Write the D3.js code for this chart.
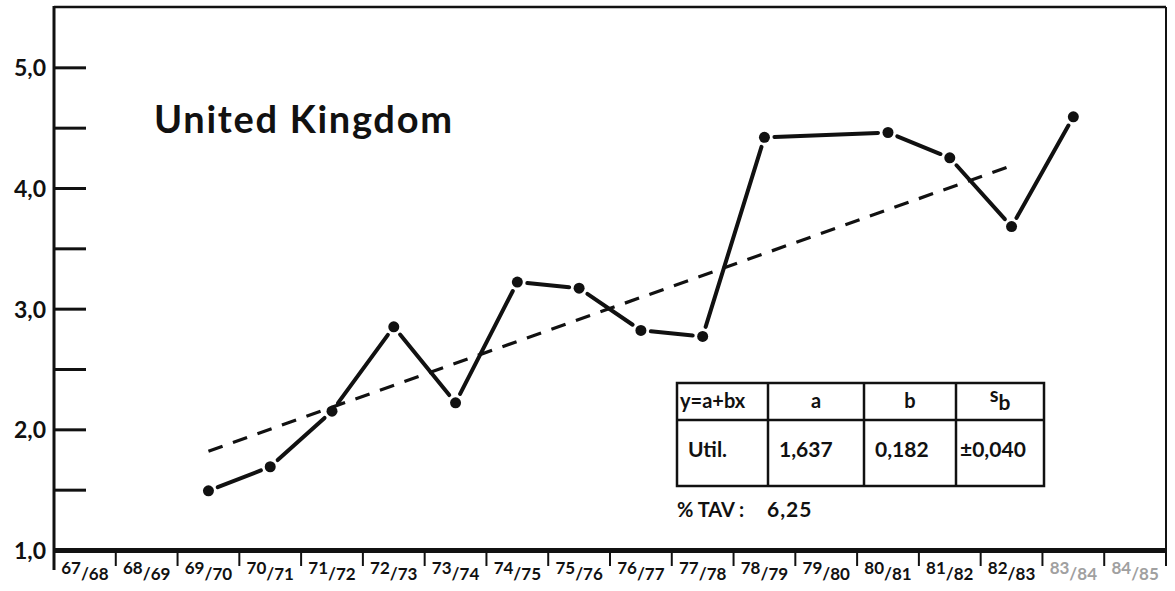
<!DOCTYPE html>
<html>
<head>
<meta charset="utf-8">
<script src="https://cdn.jsdelivr.net/npm/d3@7"></script>
<style>
  html, body { margin: 0; padding: 0; background: #fff; }
  svg { display: block; }
  text { font-family: Lato, 'DejaVu Sans', sans-serif; fill: #111; }
</style>
</head>
<body>
<div id="chart"></div>
<script>
// values
const categories = ['67/68', '68/69', '69/70', '70/71', '71/72', '72/73', '73/74', '74/75', '75/76',
  '76/77', '77/78', '78/79', '79/80', '80/81', '81/82', '82/83', '83/84', '84/85']
const values = [null, null, 1.49, 1.69, 2.15, 2.85, 2.22, 3.22, 3.17,
  2.82, 2.77, 4.42, null, 4.46, 4.25, 3.68, 4.59, null]
const yTicks = [1.5, 2, 2.5, 3, 3.5, 4, 4.5, 5]
const yLabels = [1, 2, 3, 4, 5]
const fadedLabels = ['83/84', '84/85']
const title = 'United Kingdom'

// regression y = a + b x, x = 1 at 69/70
const trendA = 1.637
const trendB = 0.182
const trendFrom = '69/70'
const trendTo = '82/83'

const tableHead = ['y=a+bx', 'a', 'b', 's']
const tableRow = ['Util.', '1,637', '0,182', '±0,040']
const tavLabel = '% TAV :'
const tavValue = '6,25'

const width = 1175
const height = 591
const plotLeft = 54
const plotRight = 1166
const plotTop = 7
const plotBottom = 550

const svg = d3.select('#chart').append('svg')
  .attr('width', width)
  .attr('height', height)

const x = d3.scaleBand().domain(categories).range([plotLeft, plotRight])
const y = d3.scaleLinear().domain([1, 5.5]).range([plotBottom, plotTop])
const cx = (c) => x(c) + x.bandwidth() / 2
const fmt = (v) => d3.format('.1f')(v).replace('.', ',')

// frame
svg.append('line')
  .attr('x1', plotLeft).attr('x2', plotRight).attr('y1', plotTop).attr('y2', plotTop)
  .attr('stroke', '#111').attr('stroke-width', 2.5)
svg.append('line')
  .attr('x1', plotRight).attr('x2', plotRight).attr('y1', plotTop).attr('y2', 566)
  .attr('stroke', '#111').attr('stroke-width', 2)

// y axis
const yAxis = svg.append('g')
  .attr('transform', `translate(${plotLeft},0)`)
  .call(d3.axisRight(y).tickValues(yTicks).tickSize(32).tickFormat(''))
yAxis.select('.domain').remove()
yAxis.selectAll('.tick line').attr('stroke', '#111').attr('stroke-width', 3)
svg.append('line')
  .attr('x1', plotLeft).attr('x2', plotLeft).attr('y1', plotTop - 1).attr('y2', 570)
  .attr('stroke', '#111').attr('stroke-width', 3)

svg.append('g').selectAll('text')
  .data(yLabels)
  .join('text')
  .attr('x', 46)
  .attr('y', (d) => y(d) + 9)
  .attr('text-anchor', 'end')
  .attr('font-size', 23)
  .attr('font-weight', 700)
  .text(fmt)

// x axis
svg.append('line')
  .attr('x1', plotLeft).attr('x2', plotRight).attr('y1', plotBottom + 0.5).attr('y2', plotBottom + 0.5)
  .attr('stroke', '#111').attr('stroke-width', 5)

svg.append('g').selectAll('line')
  .data(categories.slice(1))
  .join('line')
  .attr('x1', (d) => x(d)).attr('x2', (d) => x(d))
  .attr('y1', plotBottom).attr('y2', 566)
  .attr('stroke', '#111').attr('stroke-width', 2)

const xl = svg.append('g').selectAll('text')
  .data(categories)
  .join('text')
  .attr('x', (d) => cx(d))
  .attr('y', 574)
  .attr('text-anchor', 'middle')
  .attr('font-size', 17)
  .attr('font-weight', 700)
  .style('fill', (d) => fadedLabels.includes(d) ? '#a0a0a0' : '#111')
xl.append('tspan').text((d) => d.split('/')[0])
xl.append('tspan').attr('dy', 6).text((d) => '/' + d.split('/')[1])

// title
svg.append('text')
  .attr('x', 154)
  .attr('y', 133)
  .attr('font-size', 38)
  .attr('font-weight', 700)
  .attr('textLength', 298)
  .attr('lengthAdjust', 'spacing')
  .text(title)

// trend line
const i0 = categories.indexOf(trendFrom)
const i1 = categories.indexOf(trendTo)
svg.append('line')
  .attr('x1', cx(trendFrom))
  .attr('y1', y(trendA + trendB * 1))
  .attr('x2', cx(trendTo))
  .attr('y2', y(trendA + trendB * (i1 - i0 + 1)))
  .attr('stroke', '#111')
  .attr('stroke-width', 3.2)
  .attr('stroke-dasharray', '15,11')

// data: hand-drawn segments stop short of each dot
const pts = categories
  .map((c, i) => ({ c, v: values[i] }))
  .filter((d) => d.v !== null)
  .map((d) => ({ px: cx(d.c), py: y(d.v) }))
const gap = 10
const segs = d3.pairs(pts).map(([a, b]) => {
  const dx = b.px - a.px
  const dy = b.py - a.py
  const len = Math.hypot(dx, dy)
  return {
    x1: a.px + dx / len * gap, y1: a.py + dy / len * gap,
    x2: b.px - dx / len * gap, y2: b.py - dy / len * gap
  }
})
svg.append('g').selectAll('line')
  .data(segs)
  .join('line')
  .attr('x1', (d) => d.x1).attr('y1', (d) => d.y1)
  .attr('x2', (d) => d.x2).attr('y2', (d) => d.y2)
  .attr('stroke', '#111')
  .attr('stroke-width', 4)
  .attr('stroke-linecap', 'round')
svg.append('g').selectAll('circle')
  .data(pts)
  .join('circle')
  .attr('cx', (d) => d.px)
  .attr('cy', (d) => d.py)
  .attr('r', 5.5)
  .attr('fill', '#111')

// coefficient table
const colX = [677, 768, 864, 956, 1044]
const rowY = [383, 420, 486]
const tbl = svg.append('g')
tbl.append('rect')
  .attr('x', colX[0]).attr('y', rowY[0])
  .attr('width', colX[4] - colX[0]).attr('height', rowY[2] - rowY[0])
  .attr('fill', 'none').attr('stroke', '#111').attr('stroke-width', 2.5)
tbl.append('line')
  .attr('x1', colX[0]).attr('x2', colX[4]).attr('y1', rowY[1]).attr('y2', rowY[1])
  .attr('stroke', '#111').attr('stroke-width', 2.5)
tbl.selectAll('.col')
  .data(colX.slice(1, 4))
  .join('line')
  .attr('class', 'col')
  .attr('x1', (d) => d).attr('x2', (d) => d)
  .attr('y1', rowY[0]).attr('y2', rowY[2])
  .attr('stroke', '#111').attr('stroke-width', 2.5)

const head = tbl.selectAll('.head')
  .data(tableHead)
  .join('text')
  .attr('class', 'head')
  .attr('x', (d, i) => i === 0 ? colX[0] + 3 : (colX[i] + colX[i + 1]) / 2)
  .attr('y', 408)
  .attr('text-anchor', (d, i) => i === 0 ? 'start' : 'middle')
  .attr('font-size', 20)
  .attr('font-weight', 700)
  .text((d) => d)
head.filter((d, i) => i === 3)
  .attr('y', 402)
  .append('tspan')
  .attr('dy', 8)
  .attr('font-size', 21)
  .text('b')

tbl.selectAll('.cell')
  .data(tableRow)
  .join('text')
  .attr('class', 'cell')
  .attr('x', (d, i) => colX[i] + (i === 0 ? 11 : i === 3 ? 4 : 11))
  .attr('y', 457)
  .attr('font-size', 21)
  .attr('font-weight', 700)
  .text((d) => d)

svg.append('text')
  .attr('x', 677)
  .attr('y', 517)
  .attr('font-size', 20)
  .attr('font-weight', 700)
  .text(tavLabel)
svg.append('text')
  .attr('x', 767)
  .attr('y', 517)
  .attr('font-size', 21)
  .attr('font-weight', 700)
  .attr('letter-spacing', 1)
  .text(tavValue)
</script>
</body>
</html>
